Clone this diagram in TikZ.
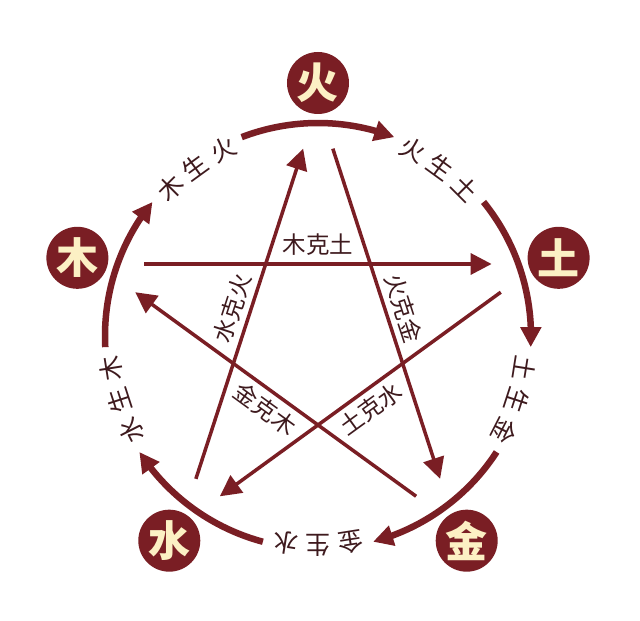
\documentclass[tikz,border=0pt]{standalone}
\usepackage{fontspec}
\setmainfont{Noto Sans CJK SC}
\usetikzlibrary{arrows.meta,bending}
\definecolor{wxred}{RGB}{122,30,36}
\definecolor{wxcream}{RGB}{252,240,196}
\definecolor{wxtext}{RGB}{62,26,30}
\begin{document}
\begin{tikzpicture}[x=1pt,y=1pt,
 elem/.style={circle,fill=wxred,minimum size=62pt,inner sep=0pt,text=wxcream,font=\fontsize{42}{42}\selectfont\bfseries},
 shengarc/.style={draw=wxred,line width=6.5pt,-{Triangle[length=20pt,width=20pt]}},
 keline/.style={draw=wxred,line width=3.5pt,-{Triangle[length=21pt,width=21pt]},shorten <=48pt,shorten >=48pt},
 lbl/.style={text=wxtext,font=\fontsize{25}{25}\selectfont,inner sep=0pt},
 klbl/.style={text=wxtext,font=\fontsize{23.5}{23.5}\selectfont,inner sep=0pt},
]
\useasboundingbox[fill=white] (-318,336) rectangle (322,-285);
% five elements
\node[elem] (huo)  at (90:253)   {火};
\node[elem] (tu)   at (18:253)   {土};
\node[elem] (jin)  at (-54:253)  {金};
\node[elem] (shui) at (-126:253) {水};
\node[elem] (mu)   at (162:253)  {木};
% generating cycle arcs
\foreach \e/\n in {162/mu,90/huo,18/tu,-54/jin,-126/shui}{
  \coordinate (arc\n) at (\e+21:213);
  \draw[shengarc] (arc\n) arc[start angle=\e+21, end angle=\e-21, radius=213];
}
% generating labels
\foreach \m/\cA/\cB/\cC [count=\i] in {126/木/生/火, 54/火/生/土, -18/土/生/金, -90/金/生/水, 198/水/生/木}{
  \node[lbl,rotate=\m+9-90] (sa\i) at (\m+9:209) {\cA};
  \node[lbl,rotate=\m-90]   (sb\i) at (\m:209)   {\cB};
  \node[lbl,rotate=\m-9-90] (sc\i) at (\m-9:209) {\cC};
}
% star vertices
\coordinate (vhuo)  at (90:233);
\coordinate (vtu)   at (18:233);
\coordinate (vjin)  at (-54:233);
\coordinate (vshui) at (-126:233);
\coordinate (vmu)   at (162:233);
% overcoming lines
\draw[keline] (vmu) -- (vtu);
\draw[keline] (vhuo) -- (vjin);
\draw[keline] (vjin) -- (vmu);
\draw[keline] (vshui) -- (vhuo);
\draw[keline] (vtu) -- (vshui);
% overcoming labels
\node[klbl] (k1) at (90:91) {木克土};
\node[klbl,rotate=-72] (k2) at (18:90) {火克金};
\node[klbl,rotate=72]  (k3) at (162:90) {水克火};
\node[klbl,rotate=-36] (k4) at (-126:90) {金克木};
\node[klbl,rotate=36]  (k5) at (-54:90) {土克水};
\end{tikzpicture}
\end{document}
